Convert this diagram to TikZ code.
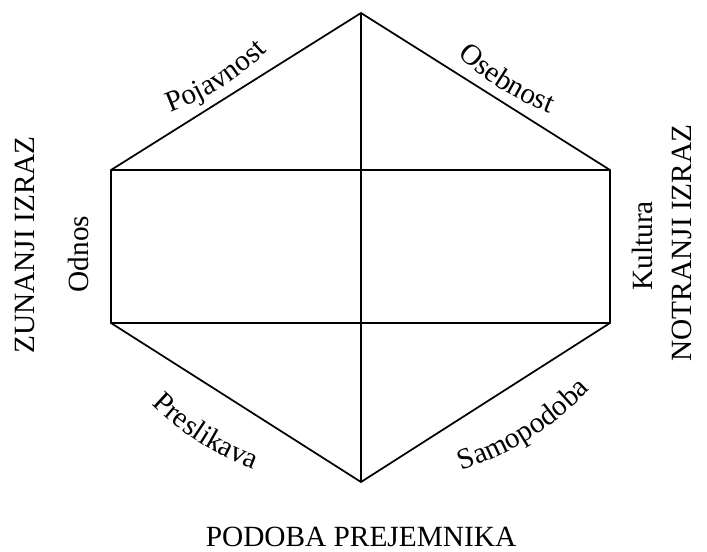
\documentclass[tikz,border=0pt]{standalone}
\usepackage{fontspec}
\setmainfont{Liberation Serif}
\usepackage{tikz}
\usetikzlibrary{positioning, decorations.text}

\newcommand{\prismfont}{\fontsize{22}{26}\selectfont}

\begin{document}
\begin{tikzpicture}[
    x=0.75pt, y=-0.75pt,
    prism/.style={line width=1.3pt, line join=miter},
    facet/.style={font=\prismfont, inner sep=0pt},
    side/.style={font=\prismfont, inner sep=0pt, rotate=90},
    arch/.style={
        decorate,
        decoration={text along path, text align=center, text={|\prismfont|#1}}
    }
]
\useasboundingbox (0,0) rectangle (707,551);

% vogali prizme
\coordinate (top) at (361,13);
\coordinate (ul) at (111,170);
\coordinate (ur) at (610,170);
\coordinate (ll) at (111,323);
\coordinate (lr) at (610,323);
\coordinate (bot) at (361,482);

\draw[prism] (top) -- (ul) -- (ll) -- (bot) -- (lr) -- (ur) -- cycle;
\draw[prism] (ul) -- (ur);
\draw[prism] (ll) -- (lr);
\draw[prism] (top) -- (bot);

% napisi ob robovih
\path[arch=Pojavnost] (146,121) to[bend right=14] (286,33);
\path[arch=Osebnost] (437,35) to[bend right=14] (577,123);
\path[arch=Preslikava] (132,385) to[bend right=14] (280,479);
\path[arch=Samopodoba] (446,476) to[bend right=14] (602,378);

\node[side] (odnos) at (78,254) {Odnos};
\node[side] (kultura) at (642,246) {Kultura};
\node[side] (zunanji) at (25,245) {ZUNANJI IZRAZ};
\node[side] (notranji) at (682,243) {NOTRANJI IZRAZ};
\node[facet, anchor=base] (podoba) at (361,546) {PODOBA PREJEMNIKA};

\end{tikzpicture}
\end{document}
